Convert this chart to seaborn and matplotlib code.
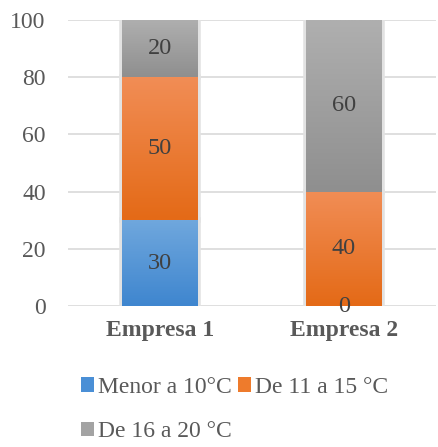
import numpy as np
import pandas as pd
import matplotlib
matplotlib.use("Agg")
import matplotlib.pyplot as plt
from matplotlib.colors import LinearSegmentedColormap
from matplotlib.patches import Patch
import seaborn as sns

empresas = ["Empresa 1", "Empresa 2"]
series = ["Menor a 10°C", "De 11 a 15 °C", "De 16 a 20 °C"]
menor_10 = [30, 0]
de_11_15 = [50, 40]
de_16_20 = [20, 60]
yticks = [0, 20, 40, 60, 80, 100]

# gradient (top, bottom) for each series, plus a flat legend colour
gradients = [("#6fa7dd", "#3f86cf"), ("#f18d55", "#e46a17"), ("#afafaf", "#8f8f8f")]
legend_colors = ["#4a8fd6", "#ee7b2c", "#a3a3a3"]

sns.set_theme(style="white")
plt.rcParams["font.family"] = ["Liberation Serif", "DejaVu Serif"]

df = pd.DataFrame({"empresa": empresas, series[0]: menor_10,
                   series[1]: de_11_15, series[2]: de_16_20})

fig = plt.figure(figsize=(4.38, 4.47), dpi=100)
ax = fig.add_axes([0.155, 0.3154, 0.84, 0.6398])

bottom = np.zeros(len(df))
for name, grad in zip(series, gradients):
    before = len(ax.patches)
    sns.barplot(data=df, x="empresa", y=name, bottom=bottom, color=grad[1],
                width=0.41, ax=ax, edgecolor="#e2e2e2", linewidth=4,
                saturation=1)
    new = ax.patches[before:]
    cmap = LinearSegmentedColormap.from_list("g", [grad[1], grad[0]])
    for p, val, b in zip(new, df[name], bottom):
        x0, y0 = p.get_x(), p.get_y()
        w, h = p.get_width(), p.get_height()
        if h > 0:
            im = ax.imshow(np.linspace(0, 1, 64).reshape(-1, 1), cmap=cmap,
                           extent=[x0, x0 + w, y0, y0 + h], origin="lower",
                           aspect="auto", zorder=3)
            im.set_clip_path(p)
        ax.text(x0 + w / 2, b + val / 2, f"{val:g}", ha="center", va="center",
                fontsize=17.5, color="#404040", zorder=5)
    bottom = bottom + df[name].to_numpy()

ax.set_xlim(-0.5, 1.5)
ax.set_ylim(0, 100)
ax.set_yticks(yticks)
ax.yaxis.grid(True, color="#d9d9d9", linewidth=1.2)
ax.set_axisbelow(True)
for s in ax.spines.values():
    s.set_visible(False)
ax.tick_params(axis="y", labelsize=17, colors="#595959", length=0, pad=16)
ax.tick_params(axis="x", labelsize=17, colors="#595959", length=0, pad=10)
for lbl in ax.get_xticklabels():
    lbl.set_fontweight("bold")
ax.set_xlabel("")
ax.set_ylabel("")

handles = [Patch(facecolor=c, edgecolor="none") for c in legend_colors]
order = [0, 2, 1]
fig.legend([handles[i] for i in order], [series[i] for i in order],
           loc="upper left", bbox_to_anchor=(0.185, 0.157), ncol=2, frameon=False,
           fontsize=17, labelcolor="#595959", handlelength=0.55, handleheight=0.55,
           handletextpad=0.15, columnspacing=0.3, labelspacing=1.0,
           borderaxespad=0, borderpad=0)

fig.savefig("out.png", dpi=100)
